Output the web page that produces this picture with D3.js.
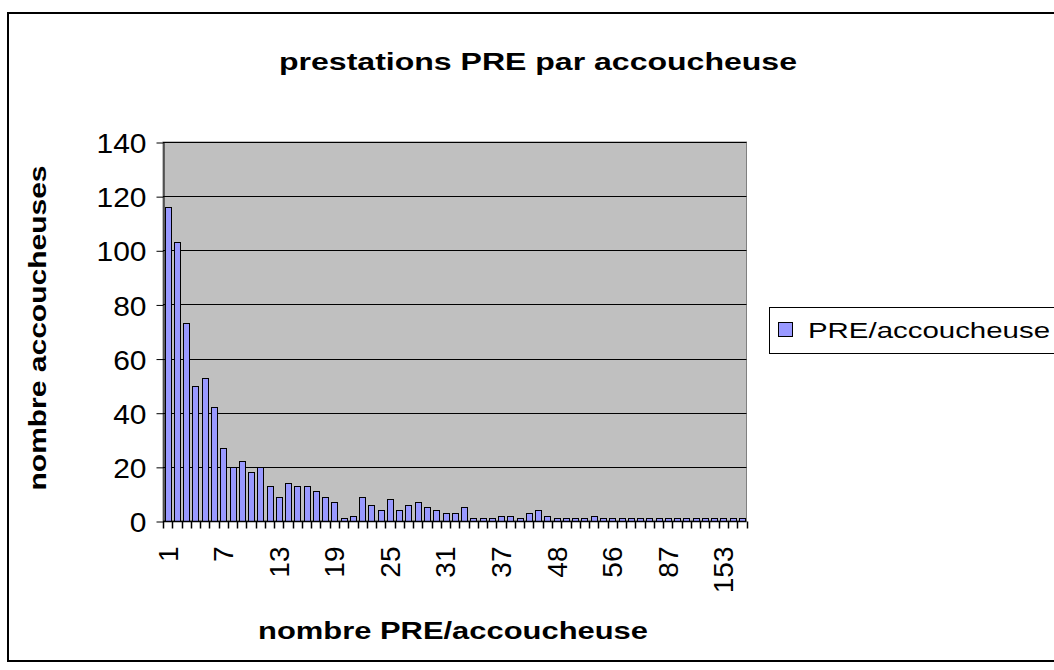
<!DOCTYPE html>
<html><head><meta charset="utf-8">
<script src="https://cdn.jsdelivr.net/npm/d3@7"></script>
<style>body{margin:0;background:#fff;} svg{display:block;}</style>
</head><body>
<svg id="chart" width="1054" height="670"></svg>
<script>
const categories = [1,2,3,4,5,6,7,8,9,10,11,12,13,14,15,16,17,18,19,20,21,22,23,24,25,26,27,28,29,30,31,32,33,34,35,36,37,
  38,39,40,42,45,48,49,50,51,52,54,56,58,60,62,66,75,87,90,96,105,112,128,153,160,190];
const values = [116,103,73,50,53,42,27,20,22,18,20,13,9,14,13,13,11,9,7,1,2,9,6,4,8,4,6,7,5,4,3,3,5,1,1,1,2,
  2,1,3,4,2,1,1,1,1,2,1,1,1,1,1,1,1,1,1,1,1,1,1,1,1,1];
const yTicks = [0,20,40,60,80,100,120,140];
const seriesName = "PRE/accoucheuse";
const title = "prestations PRE par accoucheuse";
const xTitle = "nombre PRE/accoucheuse";
const yTitle = "nombre accoucheuses";

const svg = d3.select("#chart");
const font = "Arial, 'Liberation Sans', sans-serif";
const L = 163, R = 746.5, T = 142, B = 521;

svg.append("rect").attr("x",8).attr("y",13).attr("width",1060).attr("height",648)
  .attr("fill","#fff").attr("stroke","#000").attr("stroke-width",2);

const x = d3.scaleBand().domain(categories.map(String)).range([L,R]).paddingInner(0.36).paddingOuter(0.18);
const xTick = d3.scaleBand().domain(categories.map(String)).range([L,R]);
const y = d3.scaleLinear().domain([0,140]).range([B,T]);

svg.append("rect").attr("x",L).attr("y",T).attr("width",R-L).attr("height",B-T)
  .attr("fill","#C0C0C0").attr("stroke","#808080").attr("stroke-width",1);

svg.append("g").selectAll("line").data(yTicks.filter(d=>d>0)).join("line")
  .attr("x1",L).attr("x2",R).attr("y1",d=>Math.round(y(d))+0.5).attr("y2",d=>Math.round(y(d))+0.5)
  .attr("stroke","#000").attr("stroke-width",1);

svg.append("g").selectAll("rect").data(values).join("rect")
  .attr("x",(d,i)=>Math.round(x(String(categories[i])))+0.5)
  .attr("width",Math.round(x.bandwidth()))
  .attr("y",d=>Math.round(y(d))+0.5)
  .attr("height",d=>B-Math.round(y(d)))
  .attr("fill","#9999FF").attr("stroke","#000").attr("stroke-width",1);

const yAxis = d3.axisLeft(y).tickValues(yTicks).tickSize(7).tickPadding(10).tickSizeOuter(0);
const gy = svg.append("g").attr("transform",`translate(${L+0.5},0.5)`).call(yAxis);
gy.select(".domain").attr("stroke","#000");
gy.selectAll(".tick line").attr("stroke","#000");
gy.selectAll("text").attr("font-family",font).attr("font-size",28).attr("fill","#000")
  .attr("dy","0.36em").attr("textLength",function(){return this.getComputedTextLength()*1.07;})
  .attr("lengthAdjust","spacingAndGlyphs");

const gx = svg.append("g").attr("transform",`translate(0,${B+0.5})`);
gx.append("line").attr("x1",L).attr("x2",R).attr("stroke","#000").attr("stroke-width",1.5);
const tickPos = categories.map(c=>xTick(String(c))).concat([R]);
gx.selectAll("line.t").data(tickPos).join("line").attr("class","t")
  .attr("x1",d=>Math.round(d)+0.5).attr("x2",d=>Math.round(d)+0.5).attr("y1",0).attr("y2",7)
  .attr("stroke","#000").attr("stroke-width",1.5);
const labelled = categories.filter((c,i)=>i%6===0);
gx.selectAll("text").data(labelled).join("text")
  .attr("transform",d=>`translate(${xTick(String(d))+xTick.bandwidth()/2+10},${25}) rotate(-90)`)
  .attr("text-anchor","end").attr("font-family",font).attr("font-size",28).attr("fill","#000")
  .text(d=>d);

function fitText(sel, len){ sel.attr("textLength",len).attr("lengthAdjust","spacingAndGlyphs"); }
fitText(svg.append("text").attr("x",538).attr("y",70).attr("text-anchor","middle")
  .attr("font-family",font).attr("font-weight","bold").attr("font-size",23).text(title), 518);
fitText(svg.append("text").attr("x",453).attr("y",639).attr("text-anchor","middle")
  .attr("font-family",font).attr("font-weight","bold").attr("font-size",23).text(xTitle), 390);
fitText(svg.append("text").attr("transform","translate(46,328) rotate(-90)").attr("text-anchor","middle")
  .attr("font-family",font).attr("font-weight","bold").attr("font-size",23).text(yTitle), 325);

const lg = svg.append("g");
lg.append("rect").attr("x",769.5).attr("y",307.5).attr("width",300).attr("height",46)
  .attr("fill","#fff").attr("stroke","#000").attr("stroke-width",1);
lg.append("rect").attr("x",778.5).attr("y",322.5).attr("width",14).attr("height",14)
  .attr("fill","#9999FF").attr("stroke","#000").attr("stroke-width",1);
fitText(lg.append("text").attr("x",808).attr("y",338).attr("font-family",font).attr("font-size",22)
  .attr("fill","#000").text(seriesName), 242);
</script>
</body></html>
